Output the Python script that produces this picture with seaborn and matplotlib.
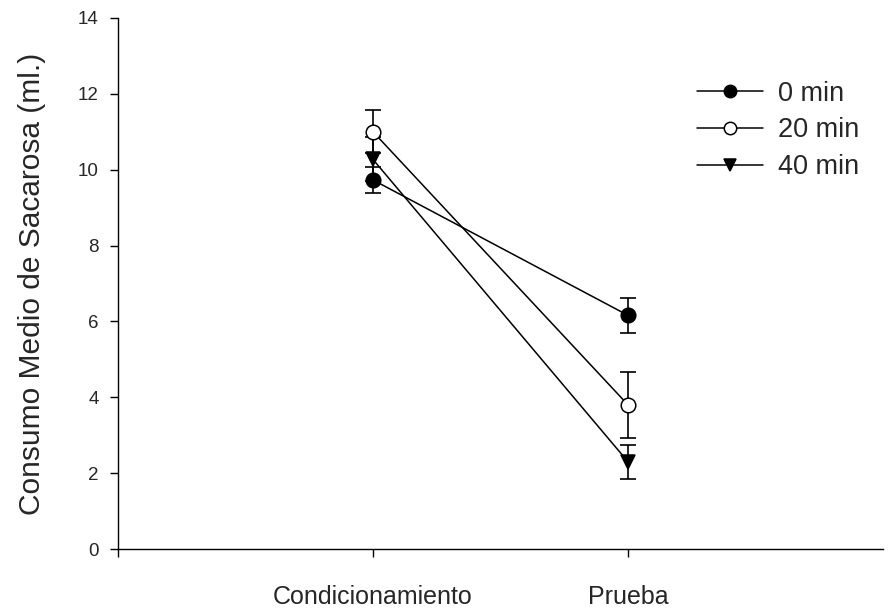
import pandas as pd
import matplotlib
matplotlib.use("Agg")
import matplotlib.pyplot as plt
import seaborn as sns

fases = ["Condicionamiento", "Prueba"]
grupos = ["0 min", "20 min", "40 min"]
media_0 = [9.73, 6.16]
media_20 = [11.0, 3.80]
media_40 = [10.27, 2.30]
err_0 = [0.35, 0.46]
err_20 = [0.57, 0.88]
err_40 = [0.58, 0.45]

medias = [media_0, media_20, media_40]
errores = [err_0, err_20, err_40]
marcadores = ["o", "o", "v"]
rellenos = ["black", "white", "black"]

sns.set_style("ticks")
plt.rcParams['font.family'] = ['Liberation Sans', 'DejaVu Sans']

fig = plt.figure(figsize=(8.89, 6.12), dpi=100)
ax = fig.add_axes([0.1327, 0.1029, 0.8606, 0.8677])

for g, m, e, mk, fc in zip(grupos, medias, errores, marcadores, rellenos):
    df = pd.DataFrame({"fase": fases, "consumo": m})
    ax.errorbar(df["fase"], df["consumo"], yerr=e, fmt="none", ecolor="black",
                elinewidth=1.2, capsize=6, capthick=1.2, zorder=2)
    sns.lineplot(data=df, x="fase", y="consumo", ax=ax, color="black", lw=1.1,
                 marker=mk, markersize=10.5, markerfacecolor=fc,
                 markeredgecolor="black", markeredgewidth=1.1, label=g,
                 sort=False, zorder=3)

ax.set_xlim(-1, 2)
ax.set_ylim(0, 14)
ax.set_yticks(range(0, 15, 2))
ax.set_xticks([-1, 0, 1])
ax.set_xticklabels([""] + fases)
ax.set_xlabel("")
ax.set_ylabel("Consumo Medio de Sacarosa (ml.)", fontsize=21.5, labelpad=23)
ax.tick_params(axis="y", labelsize=13.5, length=6, width=1, color="black", pad=8)
ax.tick_params(axis="x", labelsize=18, length=6, width=1, color="black", pad=20)
for s in ["top", "right"]:
    ax.spines[s].set_visible(False)
for s in ["left", "bottom"]:
    ax.spines[s].set_color("black")
    ax.spines[s].set_linewidth(1)

ax.legend(loc="upper right", bbox_to_anchor=(1.001, 0.928), frameon=False,
          fontsize=19.5, handlelength=2.45, handletextpad=0.55, labelspacing=0.4,
          markerscale=0.85)

fig.savefig("out.png", dpi=100)
